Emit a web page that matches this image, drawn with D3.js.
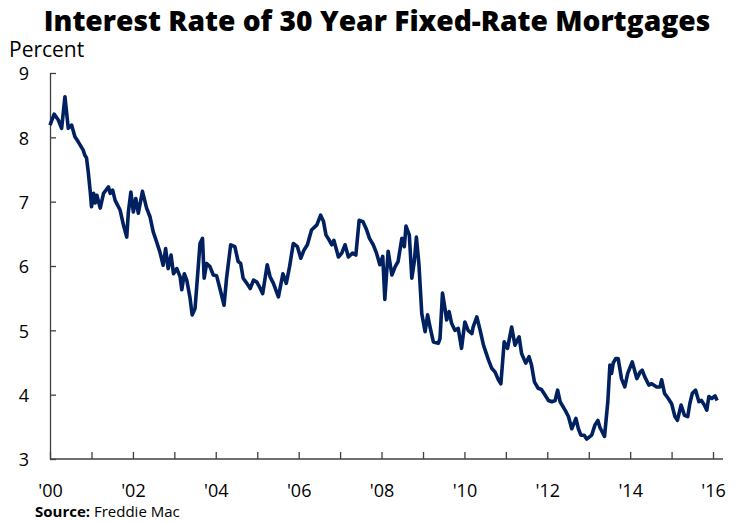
<!DOCTYPE html>
<head>
  <meta charset="utf-8">
  <script src="https://d3js.org/d3.v7.min.js"></script>
  <style>
    body { margin:0; background:#fff; }
    svg { display:block; }
    text { font-family: "Open Sans", "Noto Sans", sans-serif; fill:#000; }
  </style>
</head>

<body>
  <svg width="744" height="523"></svg>
  <script>
    // Freddie Mac 30-year fixed rate, sampled as (fractional year, percent)
    var years = [
      2000.00, 2000.10, 2000.20, 2000.28, 2000.36, 2000.44, 2000.52, 2000.60, 2000.68, 2000.80,
      2000.84, 2000.88, 2000.92, 2000.97, 2001.00, 2001.05, 2001.09, 2001.13, 2001.21, 2001.29,
      2001.41, 2001.45, 2001.51, 2001.57, 2001.69, 2001.77, 2001.85, 2001.89, 2001.95, 2002.01,
      2002.07, 2002.13, 2002.23, 2002.33, 2002.41, 2002.49, 2002.57, 2002.65, 2002.73, 2002.79,
      2002.85, 2002.92, 2002.98, 2003.06, 2003.14, 2003.18, 2003.24, 2003.30, 2003.38, 2003.43,
      2003.50, 2003.58, 2003.62, 2003.68, 2003.72, 2003.78, 2003.86, 2003.94, 2004.02, 2004.10,
      2004.20, 2004.26, 2004.36, 2004.46, 2004.54, 2004.60, 2004.66, 2004.75, 2004.83, 2004.91,
      2004.99, 2005.05, 2005.13, 2005.24, 2005.31, 2005.39, 2005.51, 2005.62, 2005.70, 2005.78,
      2005.87, 2005.97, 2006.05, 2006.13, 2006.21, 2006.31, 2006.44, 2006.53, 2006.60, 2006.66,
      2006.74, 2006.80, 2006.85, 2006.96, 2007.04, 2007.12, 2007.20, 2007.30, 2007.38, 2007.46,
      2007.55, 2007.63, 2007.71, 2007.80, 2007.88, 2007.96, 2008.03, 2008.08, 2008.16, 2008.25,
      2008.33, 2008.40, 2008.49, 2008.55, 2008.59, 2008.67, 2008.73, 2008.79, 2008.84, 2008.90,
      2008.97, 2009.05, 2009.11, 2009.17, 2009.25, 2009.37, 2009.41, 2009.47, 2009.53, 2009.57,
      2009.63, 2009.69, 2009.77, 2009.85, 2009.93, 2010.01, 2010.09, 2010.18, 2010.21, 2010.30,
      2010.38, 2010.46, 2010.58, 2010.66, 2010.74, 2010.82, 2010.88, 2010.96, 2011.04, 2011.14,
      2011.22, 2011.32, 2011.38, 2011.48, 2011.56, 2011.62, 2011.69, 2011.78, 2011.86, 2011.95,
      2012.03, 2012.11, 2012.19, 2012.25, 2012.31, 2012.43, 2012.51, 2012.59, 2012.69, 2012.75,
      2012.81, 2012.89, 2012.95, 2013.07, 2013.15, 2013.22, 2013.27, 2013.38, 2013.46, 2013.51,
      2013.55, 2013.59, 2013.65, 2013.71, 2013.79, 2013.87, 2013.94, 2014.05, 2014.16, 2014.24,
      2014.29, 2014.35, 2014.45, 2014.52, 2014.64, 2014.72, 2014.76, 2014.83, 2014.92, 2015.00,
      2015.08, 2015.14, 2015.23, 2015.31, 2015.39, 2015.44, 2015.50, 2015.58, 2015.66, 2015.72,
      2015.79, 2015.85, 2015.90, 2015.97, 2016.05, 2016.10
    ];
    var rates = [
      8.19, 8.36, 8.27, 8.14, 8.63, 8.14, 8.19, 8.01, 7.93, 7.80,
      7.72, 7.68, 7.47, 7.15, 6.92, 7.13, 6.98, 7.10, 6.90, 7.13,
      7.23, 7.13, 7.18, 7.02, 6.87, 6.64, 6.45, 6.84, 7.15, 6.84,
      7.05, 6.82, 7.16, 6.90, 6.77, 6.53, 6.38, 6.22, 6.01, 6.27,
      5.96, 6.17, 5.88, 5.96, 5.83, 5.63, 5.88, 5.78, 5.50, 5.24,
      5.34, 6.01, 6.35, 6.43, 5.81, 6.04, 5.99, 5.86, 5.85, 5.65,
      5.39, 5.81, 6.33, 6.30, 6.07, 6.04, 5.81, 5.73, 5.65, 5.78,
      5.75, 5.68, 5.57, 6.02, 5.83, 5.73, 5.52, 5.88, 5.73, 5.99,
      6.35, 6.30, 6.12, 6.25, 6.33, 6.56, 6.64, 6.79, 6.69, 6.48,
      6.40, 6.33, 6.40, 6.14, 6.20, 6.33, 6.14, 6.20, 6.17, 6.71,
      6.69, 6.58, 6.43, 6.33, 6.20, 6.02, 6.15, 5.48, 6.23, 5.86,
      5.99, 6.07, 6.43, 6.30, 6.62, 6.48, 5.81, 6.07, 6.45, 6.04,
      5.26, 4.98, 5.24, 5.05, 4.82, 4.80, 4.87, 5.58, 5.34, 5.16,
      5.29, 5.11, 5.00, 5.03, 4.72, 5.13, 5.00, 4.95, 5.05, 5.21,
      5.00, 4.77, 4.54, 4.41, 4.35, 4.23, 4.17, 4.82, 4.72, 5.05,
      4.77, 4.90, 4.64, 4.49, 4.59, 4.46, 4.20, 4.10, 4.08, 3.99,
      3.91, 3.89, 3.91, 4.07, 3.89, 3.76, 3.66, 3.47, 3.63, 3.47,
      3.37, 3.37, 3.31, 3.37, 3.53, 3.60, 3.49, 3.35, 3.89, 4.46,
      4.33, 4.49, 4.56, 4.56, 4.25, 4.12, 4.33, 4.51, 4.25, 4.35,
      4.38, 4.28, 4.15, 4.17, 4.12, 4.12, 4.23, 4.02, 3.94, 3.86,
      3.66, 3.60, 3.84, 3.68, 3.66, 3.86, 4.02, 4.07, 3.89, 3.91,
      3.84, 3.76, 3.97, 3.94, 3.98, 3.91
    ];
    var yTicks = [3, 4, 5, 6, 7, 8, 9];
    var xTickYears = d3.range(2000, 2017);
    var xLabelYears = [2000, 2002, 2004, 2006, 2008, 2010, 2012, 2014, 2016];

    var margin = {top: 73, right: 31, bottom: 64, left: 50};
    var width = 744, height = 523;

    // fractional year -> Date
    function toDate(y) {
      var yr = Math.floor(y);
      var start = new Date(yr, 0, 1), end = new Date(yr + 1, 0, 1);
      return new Date(+start + (y - yr) * (end - start));
    }
    var data = years.map(function(y, i) { return {date: toDate(y), rate: rates[i]}; });

    var x = d3.scaleTime()
      .domain([new Date(2000, 0, 1), new Date(2016, 0, 1)])
      .range([margin.left, 713]);
    var y = d3.scaleLinear()
      .domain([3, 9])
      .range([height - margin.bottom, margin.top]);

    var svg = d3.select('svg');

    // title, scaled to span the plot width
    var title = svg.append('text')
      .attr('x', 377).attr('y', 31)
      .attr('text-anchor', 'middle')
      .style('font-weight', 800)
      .style('font-size', '28px')
      .text('Interest Rate of 30 Year Fixed-Rate Mortgages');
    var tw = title.node().getComputedTextLength();
    title.style('font-size', (28 * 667 / tw) + 'px');

    svg.append('text')
      .attr('x', 9).attr('y', 57)
      .style('font-size', '21px')
      .text('Percent');

    // y axis, ticks pointing into the plot
    var yAxis = d3.axisRight(y)
      .tickValues(yTicks)
      .tickSize(6)
      .tickSizeOuter(0)
      .tickFormat(d3.format('d'));
    var gy = svg.append('g')
      .attr('transform', 'translate(' + margin.left + ',0)')
      .call(yAxis);
    gy.selectAll('path, line').attr('stroke', '#404040').attr('stroke-width', 1.3);
    gy.selectAll('text')
      .attr('x', -21)
      .attr('dy', '0.38em')
      .attr('text-anchor', 'end')
      .style('font-size', '18px');

    // x axis, ticks pointing up
    var xAxis = d3.axisTop(x)
      .tickValues(xTickYears.map(function(d) { return new Date(d, 0, 1); }))
      .tickSize(7)
      .tickSizeOuter(0)
      .tickFormat(function(d) {
        var yr = d.getFullYear();
        return xLabelYears.indexOf(yr) >= 0 ? "'" + String(yr).slice(2) : '';
      });
    var gx = svg.append('g')
      .attr('transform', 'translate(0,' + (height - margin.bottom) + ')')
      .call(xAxis);
    gx.select('.domain').remove();
    gx.append('line')
      .attr('x1', margin.left).attr('x2', width - margin.right + 10)
      .attr('stroke', '#404040').attr('stroke-width', 1.3);
    gx.selectAll('.tick line').attr('stroke', '#404040').attr('stroke-width', 1.3);
    gx.selectAll('text')
      .attr('y', 38)
      .style('font-size', '18px');

    // the rate line
    var line = d3.line()
      .x(function(d) { return x(d.date); })
      .y(function(d) { return y(d.rate); });
    svg.append('path')
      .datum(data)
      .attr('d', line)
      .attr('fill', 'none')
      .attr('stroke', '#002060')
      .attr('stroke-width', 3.6)
      .attr('stroke-linejoin', 'round');

    // source note
    var src = svg.append('text')
      .attr('x', 35).attr('y', 517)
      .style('font-size', '15px');
    src.append('tspan').style('font-weight', 700).text('Source:');
    src.append('tspan').text(' Freddie Mac');
  </script>
</body>
